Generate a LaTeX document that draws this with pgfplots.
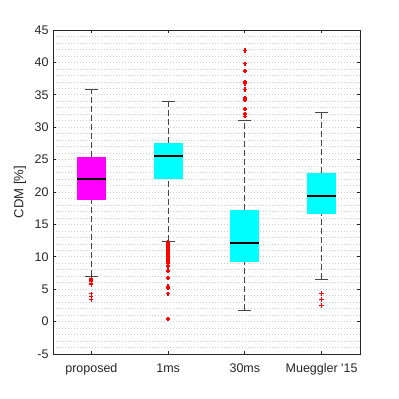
\documentclass[border=0pt]{standalone}
\usepackage{pgfplots}
\pgfplotsset{compat=1.18}
\usepgfplotslibrary{statistics}
\usepackage{fontspec}
\setmainfont{Liberation Sans}

\definecolor{axgray}{RGB}{38,38,38}
\definecolor{gridgray}{RGB}{205,205,205}
\definecolor{wgray}{RGB}{70,70,70}
\definecolor{boxmag}{RGB}{255,0,255}
\definecolor{boxcyan}{RGB}{0,255,255}
\definecolor{outred}{RGB}{255,0,0}

\pgfplotsset{
  boxplot/draw/lower whisker/.code={%
    \draw[wgray, line width=0.6pt, dash pattern=on 4.8pt off 2.4pt]
      (boxplot box cs:\pgfplotsboxplotvalue{lower whisker},0.5) --
      (boxplot box cs:\pgfplotsboxplotvalue{lower quartile},0.5);
    \draw[wgray, line width=0.6pt]
      (boxplot whisker cs:\pgfplotsboxplotvalue{lower whisker},0) --
      (boxplot whisker cs:\pgfplotsboxplotvalue{lower whisker},1);
  },
  boxplot/draw/upper whisker/.code={%
    \draw[wgray, line width=0.6pt, dash pattern=on 4.8pt off 2.4pt]
      (boxplot box cs:\pgfplotsboxplotvalue{upper quartile},0.5) --
      (boxplot box cs:\pgfplotsboxplotvalue{upper whisker},0.5);
    \draw[wgray, line width=0.6pt]
      (boxplot whisker cs:\pgfplotsboxplotvalue{upper whisker},0) --
      (boxplot whisker cs:\pgfplotsboxplotvalue{upper whisker},1);
  },
  bx/.style={
    boxplot/draw direction=y,
    boxplot/box extend=0.38,
    boxplot/whisker extend=0.17,
    boxplot/every median/.style={black, line width=1.6pt},
    boxplot/every box/.style={draw=none, fill=#1},
  },
  outl/.style={only marks, color=outred, mark=+, mark size=1.7pt,
    every mark/.append style={outred},
    mark options={draw=outred, solid, line width=1.1pt}},
}

\begin{document}
\begin{tikzpicture}
\begin{axis}[
    at={(0,0)}, anchor=south west,
    scale only axis,
    width=245.6pt, height=259.2pt,
    xmin=0.5, xmax=4.5,
    ymin=-5, ymax=45,
    xtick={1,2,3,4},
    xticklabels={proposed, 1ms, 30ms, Mueggler \textquotesingle15},
    ytick={-5,0,...,45},
    minor y tick num=4,
    minor tick length=0pt,
    major tick length=2.4pt,
    tick align=inside,
    ymajorgrids, yminorgrids,
    major grid style={gridgray, dotted, line width=0.5pt},
    minor grid style={gridgray, dotted, line width=0.5pt},
    axis line style={axgray, line width=0.6pt},
    tick style={axgray, line width=0.6pt},
    tick label style={text=axgray, font=\fontsize{10}{12}\selectfont},
    /pgf/number format/assume math mode=true,
    ylabel={CDM [\%]},
    ylabel style={text=axgray, font=\fontsize{10.5}{12}\selectfont},
    xticklabel style={yshift=-4pt},
]

\addplot[bx=boxmag, boxplot prepared={draw position=1, lower whisker=7.0,
    lower quartile=18.7, median=22.0, upper quartile=25.4, upper whisker=35.85}]
  coordinates {};
\addplot[bx=boxcyan, boxplot prepared={draw position=2, lower whisker=12.45,
    lower quartile=22.0, median=25.5, upper quartile=27.6, upper whisker=34.05}]
  coordinates {};
\addplot[bx=boxcyan, boxplot prepared={draw position=3, lower whisker=1.75,
    lower quartile=9.25, median=12.1, upper quartile=17.25, upper whisker=31.1}]
  coordinates {};
\addplot[bx=boxcyan, boxplot prepared={draw position=4, lower whisker=6.55,
    lower quartile=16.55, median=19.4, upper quartile=23.0, upper whisker=32.25}]
  coordinates {};

% outliers
\addplot[outl] coordinates {
    (1,6.6) (1,6.4) (1,6.2) (1,5.9) (1,5.7) (1,4.3) (1,3.9) (1,3.4)
};
\addplot[outl] coordinates {
    (2,12.2) (2,12.0) (2,11.8) (2,11.6) (2,11.4) (2,11.2) (2,11.0) (2,10.8)
    (2,10.6) (2,10.4) (2,10.2) (2,10.0) (2,9.8) (2,9.5) (2,9.2) (2,9.0)
    (2,8.7) (2,8.5) (2,7.8) (2,6.7) (2,5.4) (2,5.2) (2,4.3) (2,0.4)
};
\addplot[outl] coordinates {
    (3,41.85) (3,39.8) (3,38.7) (3,37.0) (3,36.7) (3,35.8) (3,34.5) (3,34.2)
    (3,32.8) (3,32.05) (3,31.7)
};
\addplot[outl] coordinates {
    (4,4.35) (4,3.4) (4,2.5)
};
\end{axis}
\path (-42.4pt,-36pt) rectangle (276.8pt,283.2pt);
\end{tikzpicture}
\end{document}
